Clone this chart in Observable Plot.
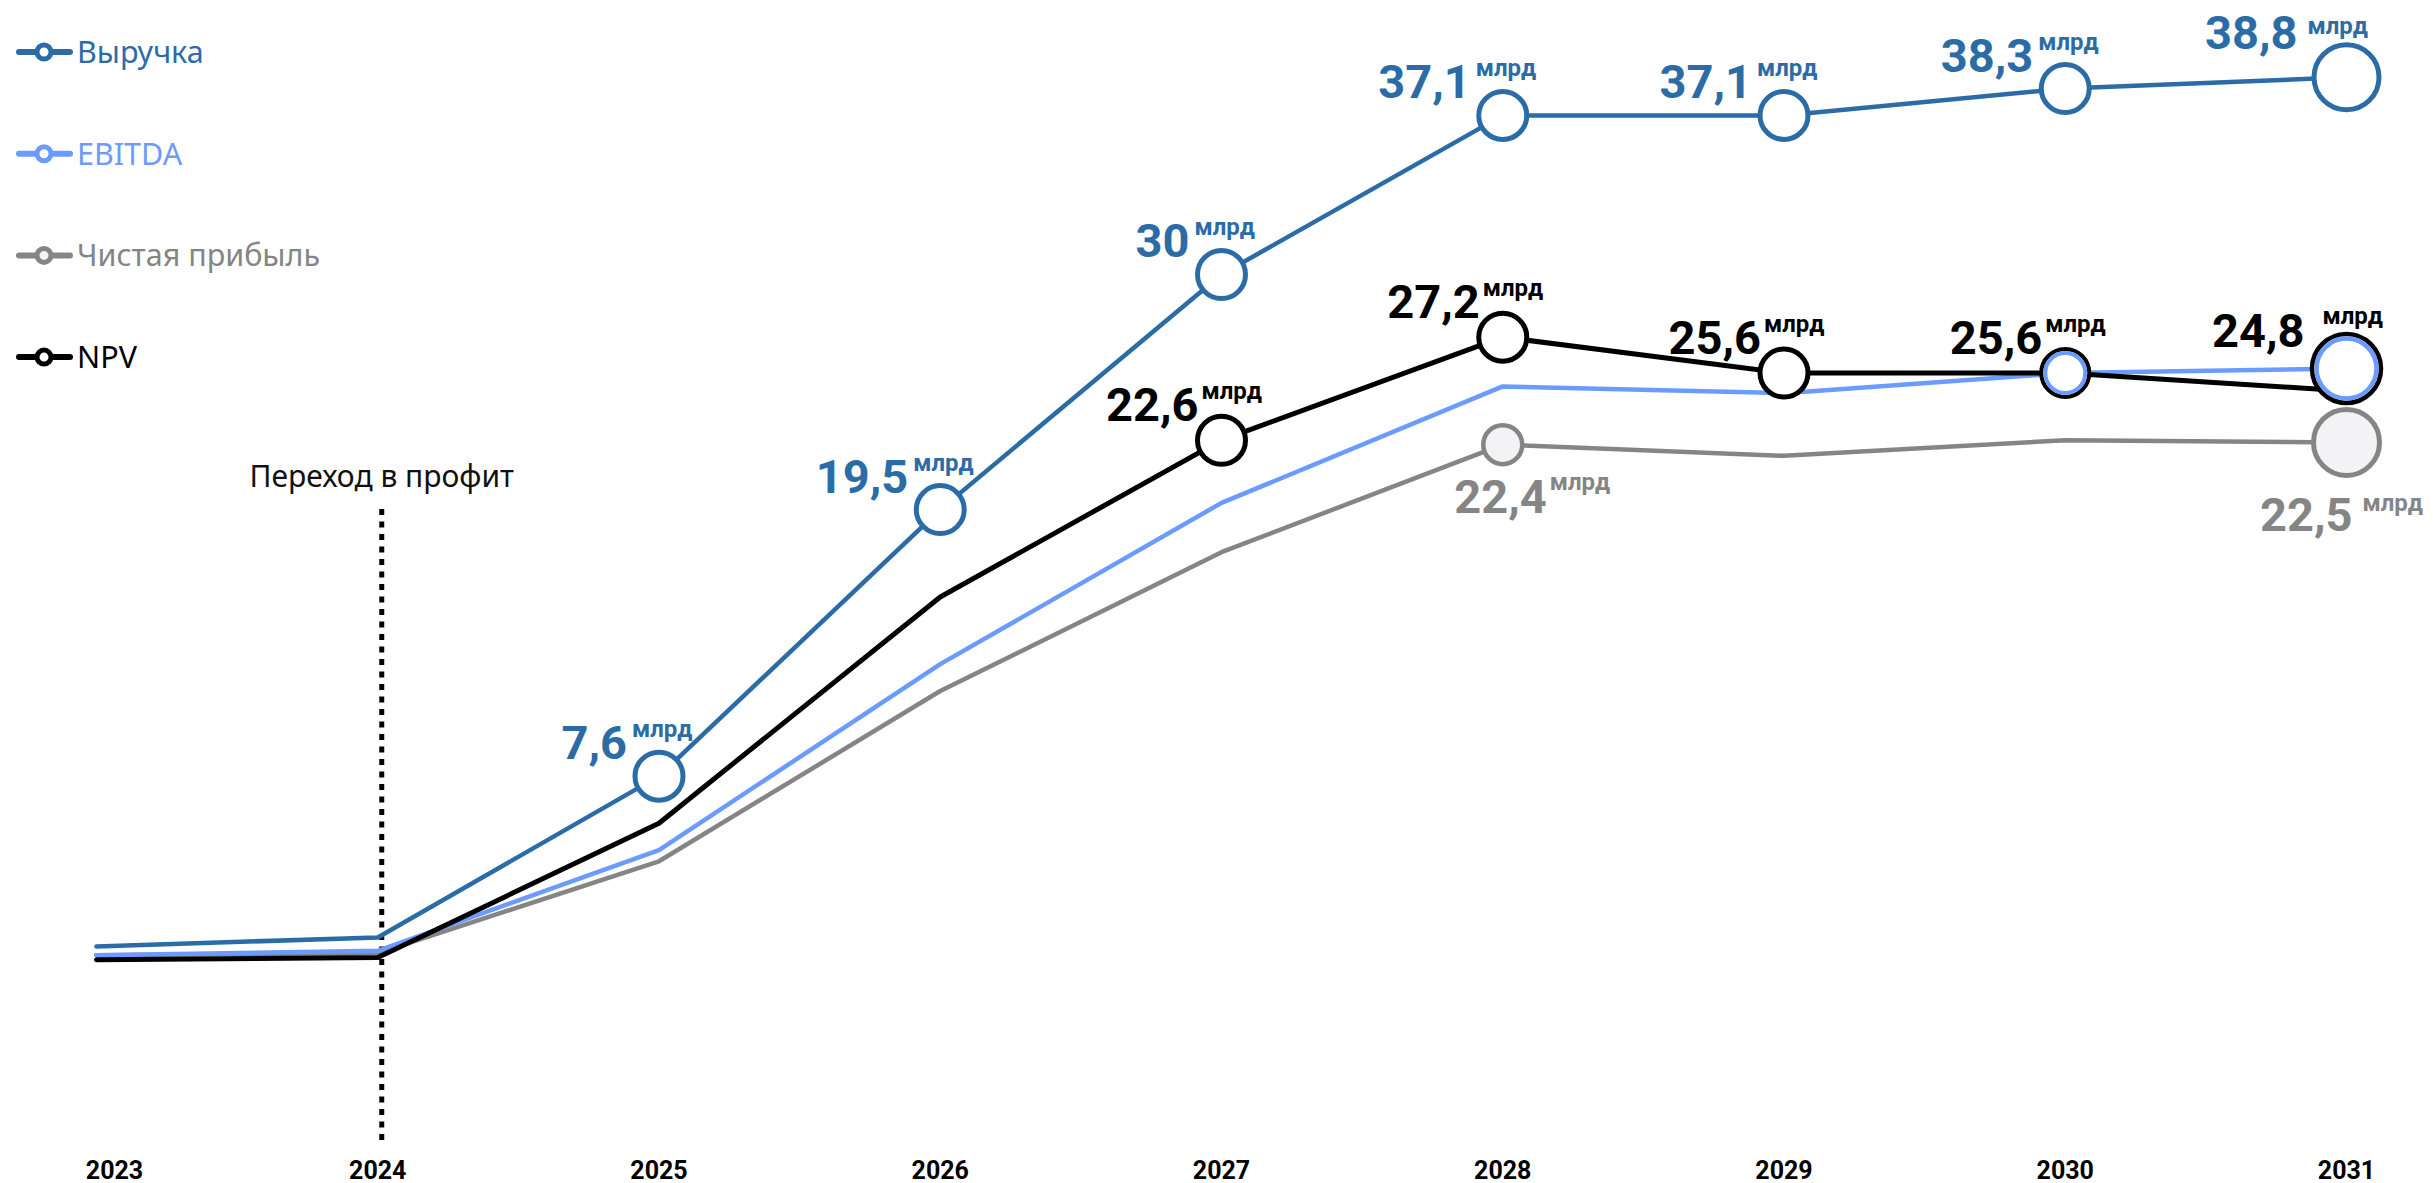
<!DOCTYPE html>
<html>
<head>
<meta charset="utf-8">
<script src="https://cdn.jsdelivr.net/npm/d3@7"></script>
<script src="https://cdn.jsdelivr.net/npm/@observablehq/plot@0.6"></script>
<style>
  html, body { margin: 0; padding: 0; background: #fff; }
  #wrap { position: relative; width: 2433px; height: 1183px; font-family: Roboto, "Noto Sans", sans-serif; }
  #legend { position: absolute; left: 0; top: 0; }
  #chart svg { display: block; }
</style>
</head>
<body>
<div id="wrap">
  <div id="chart"></div>
  <div id="legend"></div>
</div>
<script>
// ---------- data ----------
const years      = [2023, 2024, 2025, 2026, 2027, 2028, 2029, 2030, 2031];
const revenue    = [0.0, 0.4, 7.6, 19.5, 30, 37.1, 37.1, 38.3, 38.8];
const ebitda     = [-0.4, -0.2, 4.3, 12.6, 19.8, 25.0, 24.7, 25.6, 25.8];
const netProfit  = [-0.4, -0.3, 3.8, 11.4, 17.6, 22.4, 21.9, 22.6, 22.5];
const npv        = [-0.6, -0.5, 5.5, 15.6, 22.6, 27.2, 25.6, 25.6, 24.8];

const seriesNames   = ["Выручка", "EBITDA", "Чистая прибыль", "NPV"];
const unitLabel     = "млрд";
const revenueMarked = [2025, 2026, 2027, 2028, 2029, 2030, 2031];
const npvMarked     = [2027, 2028, 2029, 2030, 2031];
const netMarked     = [2028, 2031];
const annotationYear  = 2024;
const annotationText  = "Переход в профит";
const annotationLevel = 20.5;   // value level of the annotation text
const annotationRuleTop = 19.5; // value level where dotted rule begins

// ---------- styling ----------
const C = {rev: "#2c6ca6", ebitda: "#6b9bff", net: "#858585", npv: "#000000", netFill: "#f3f3f6"};
const FONT = "Roboto, 'Noto Sans', sans-serif";
const TEXT_FONT = "'Noto Sans', Roboto, sans-serif";
const yDomain = [-8.8, 42.23];
const lastYear = years[years.length - 1];
const fmt = v => String(v).replace(".", ",");

const rows = vals => years.map((year, i) => ({year, value: vals[i]}));
const revRows = rows(revenue), ebRows = rows(ebitda), netRows = rows(netProfit), npvRows = rows(npv);

const revMarks = revRows.filter(d => revenueMarked.includes(d.year)).map(d => ({...d, label: fmt(d.value)}));
const netMarks = netRows.filter(d => netMarked.includes(d.year)).map(d => ({...d, label: fmt(d.value)}));
const npvMarks = years.map((year, i) => ({
  year,
  value: Math.max(npv[i], ebitda[i]),
  label: fmt(npv[i]),
  merged: ebitda[i] >= npv[i] - 0.05
})).filter(d => npvMarked.includes(d.year));

const isLast = d => d.year === lastYear;
const notLast = d => d.year !== lastYear;

const numStyle = {fontFamily: FONT, fontWeight: 700, fontSize: 47, lineAnchor: "bottom"};
const unitStyle = {fontFamily: FONT, fontWeight: 700, fontSize: 24, lineAnchor: "bottom"};

const labelPair = (data, color, o) => [
  Plot.text(data, {x: "year", y: "value", text: "label", fill: color, textAnchor: o.numAnchor || "end", dx: o.ndx, dy: o.ndy, ...numStyle}),
  Plot.text(data, {x: "year", y: "value", text: () => unitLabel, fill: color, textAnchor: "start", dx: o.udx, dy: o.udy, ...unitStyle})
];

const chart = Plot.plot({
  width: 2433,
  height: 1183,
  marginTop: 0,
  marginBottom: 40,
  marginLeft: 96,
  marginRight: 87,
  x: {domain: [years[0], lastYear], axis: null},
  y: {domain: yDomain, axis: null},
  style: {background: "#fff", fontFamily: FONT, overflow: "visible"},
  marks: [
    // annotation
    Plot.ruleX([annotationYear], {x: d => d, y1: annotationRuleTop, y2: yDomain[0], dx: 4, stroke: "#000", strokeWidth: 5, strokeDasharray: "6,6.5"}),
    Plot.text([annotationYear], {x: d => d, y: annotationLevel, text: () => annotationText, dx: 4, fontSize: 30, fontFamily: TEXT_FONT, fill: "#111", lineAnchor: "bottom"}),
    // lines
    Plot.line(netRows, {x: "year", y: "value", stroke: C.net, strokeWidth: 4.5}),
    Plot.line(ebRows, {x: "year", y: "value", stroke: C.ebitda, strokeWidth: 4.5}),
    Plot.line(npvRows, {x: "year", y: "value", stroke: C.npv, strokeWidth: 5}),
    Plot.line(revRows, {x: "year", y: "value", stroke: C.rev, strokeWidth: 4.5}),
    // revenue markers
    Plot.dot(revMarks.filter(notLast), {x: "year", y: "value", r: 24, stroke: C.rev, strokeWidth: 5, fill: "#fff"}),
    Plot.dot(revMarks.filter(isLast), {x: "year", y: "value", r: 32.5, stroke: C.rev, strokeWidth: 5, fill: "#fff"}),
    // net profit markers
    Plot.dot(netMarks.filter(notLast), {x: "year", y: "value", r: 19.5, stroke: C.net, strokeWidth: 4.5, fill: C.netFill}),
    Plot.dot(netMarks.filter(isLast), {x: "year", y: "value", r: 33, stroke: C.net, strokeWidth: 5, fill: C.netFill}),
    // NPV markers
    Plot.dot(npvMarks.filter(d => !d.merged && notLast(d)), {x: "year", y: "value", r: 24, stroke: C.npv, strokeWidth: 5, fill: "#fff"}),
    Plot.dot(npvMarks.filter(d => d.merged && notLast(d)), {x: "year", y: "value", r: 24, stroke: C.npv, strokeWidth: 4, fill: "#fff"}),
    Plot.dot(npvMarks.filter(d => d.merged && notLast(d)), {x: "year", y: "value", r: 20, stroke: C.ebitda, strokeWidth: 4, fill: "none"}),
    Plot.dot(npvMarks.filter(d => d.merged && isLast(d)), {x: "year", y: "value", r: 34.5, stroke: C.npv, strokeWidth: 4.5, fill: "#fff"}),
    Plot.dot(npvMarks.filter(d => d.merged && isLast(d)), {x: "year", y: "value", r: 30, stroke: C.ebitda, strokeWidth: 4.5, fill: "none"}),
    // labels
    ...labelPair(revMarks.filter(notLast), C.rev, {ndx: -32, ndy: -17, udx: -27, udy: -39}),
    ...labelPair(revMarks.filter(isLast), C.rev, {ndx: -49, ndy: -28, udx: -39, udy: -43}),
    ...labelPair(npvMarks.filter(notLast), C.npv, {ndx: -23, ndy: -19, udx: -20, udy: -41}),
    ...labelPair(npvMarks.filter(isLast), C.npv, {ndx: -42, ndy: -22, udx: -24, udy: -45}),
    ...labelPair(netMarks.filter(notLast), C.net, {ndx: 44, ndy: 68, udx: 47, udy: 45}),
    ...labelPair(netMarks.filter(isLast), C.net, {ndx: 6, ndy: 89, udx: 16, udy: 69}),
    // year labels
    Plot.text(years.slice(0, 1), {x: d => d, frameAnchor: "bottom", dy: 35, dx: 18, text: d => String(d), fontSize: 25, fontWeight: 700, fontFamily: FONT, fill: "#000", lineAnchor: "bottom"}),
    Plot.text(years.slice(1), {x: d => d, frameAnchor: "bottom", dy: 35, text: d => String(d), fontSize: 25, fontWeight: 700, fontFamily: FONT, fill: "#000", lineAnchor: "bottom"})
  ]
});
document.getElementById("chart").appendChild(chart);

// ---------- legend ----------
const legendColors = [C.rev, C.ebitda, C.net, C.npv];
const legendFills = ["#fff", "#fff", C.netFill, "#fff"];
const ns = "http://www.w3.org/2000/svg";
const lg = document.createElementNS(ns, "svg");
lg.setAttribute("width", 420);
lg.setAttribute("height", 400);
seriesNames.forEach((name, i) => {
  const cy = 52 + i * 101.7;
  const line = document.createElementNS(ns, "line");
  line.setAttribute("x1", 19); line.setAttribute("x2", 70);
  line.setAttribute("y1", cy); line.setAttribute("y2", cy);
  line.setAttribute("stroke", legendColors[i]); line.setAttribute("stroke-width", 6);
  line.setAttribute("stroke-linecap", "round");
  lg.appendChild(line);
  const c = document.createElementNS(ns, "circle");
  c.setAttribute("cx", 44); c.setAttribute("cy", cy); c.setAttribute("r", 7);
  c.setAttribute("fill", legendFills[i]); c.setAttribute("stroke", legendColors[i]); c.setAttribute("stroke-width", 5);
  lg.appendChild(c);
  const t = document.createElementNS(ns, "text");
  t.setAttribute("x", 77); t.setAttribute("y", cy + 11);
  t.setAttribute("fill", legendColors[i]);
  t.setAttribute("font-size", 30.5);
  t.setAttribute("font-family", TEXT_FONT);
  t.textContent = name;
  lg.appendChild(t);
});
document.getElementById("legend").appendChild(lg);
</script>
</body>
</html>
